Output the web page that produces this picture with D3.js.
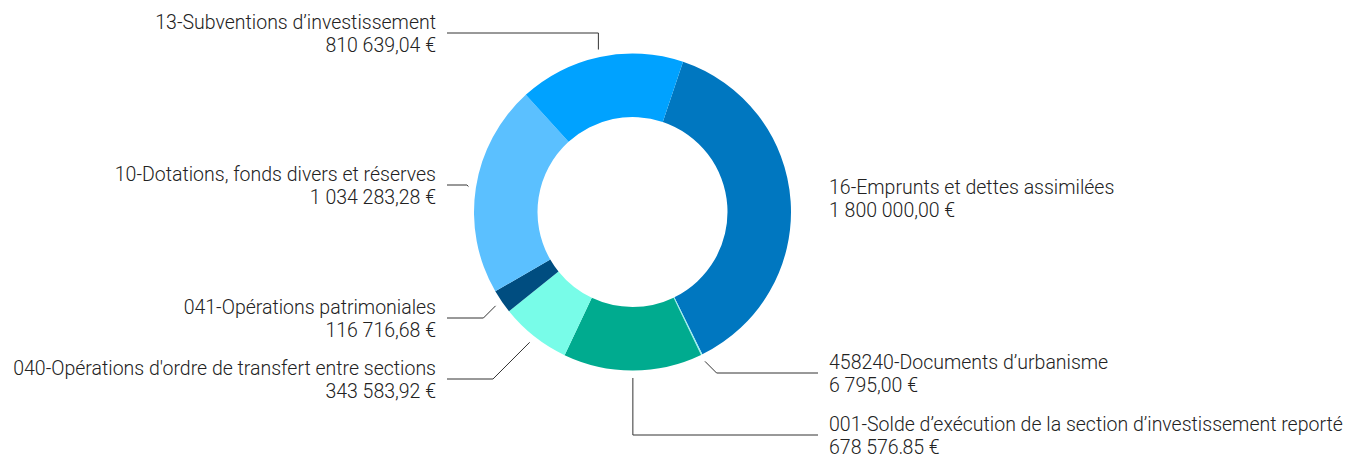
<html>
<head>
<meta charset="utf-8">
<title>Recettes d'investissement</title>
<script src="https://cdn.jsdelivr.net/npm/d3@7"></script>
<style>
body { margin:0; background:#fff; }
#chart text { font-family: Roboto, "Noto Sans", sans-serif; font-weight:300; font-size:19.5px; fill:#222; }
</style>
</head>
<body>
<svg id="chart" width="1347" height="454"></svg>
<script>

// data, in drawing order (clockwise)
var labels = ["16-Emprunts et dettes assimilées",
	"458240-Documents d’urbanisme",
	"001-Solde d’exécution de la section d’investissement reporté",
	"040-Opérations d'ordre de transfert entre sections",
	"041-Opérations patrimoniales",
	"10-Dotations, fonds divers et réserves",
	"13-Subventions d’investissement"];
var values = [1800000.00, 6795.00, 678576.85, 343583.92, 116716.68, 1034283.28, 810639.04];
var amounts = ["1 800 000,00 €", "6 795,00 €", "678 576,85 €", "343 583,92 €",
	"116 716,68 €", "1 034 283,28 €", "810 639,04 €"];
var colors = ["#0077c0", "#9af0f0", "#00ab8f", "#78fce8", "#004d80", "#5bc0ff", "#00a2ff"];

// layout of the labels (y of the leader line), not data
var labelY = [198, 373, 435, 379, 318, 185, 33];

var width = 1347, height = 454;
var cx = 632.5, cy = 212, outerR = 158.5, innerR = 95;
var startDeg = 18.6;

var svg = d3.select("#chart");
var g = svg.append("g").attr("transform", "translate(" + cx + "," + cy + ")");

var pie = d3.pie().sort(null)
	.startAngle(startDeg * Math.PI / 180)
	.endAngle((startDeg + 360) * Math.PI / 180);
var arcs = pie(values);

var arc = d3.arc().innerRadius(innerR).outerRadius(outerR);

g.selectAll("path.slice").data(arcs).enter().append("path")
	.attr("class", "slice")
	.attr("d", arc)
	.attr("fill", function(d, i) { return colors[i]; });

// leader lines + labels
arcs.forEach(function(d, i) {
	var mid = (d.startAngle + d.endAngle) / 2;
	var s = Math.sin(mid), c = -Math.cos(mid);
	var px = cx + (outerR + 7.5) * s, py = cy + (outerR + 7.5) * c;
	var right = s > 0;
	var ly = labelY[i];
	var ex;
	if (Math.abs(s) < 0.25) ex = px;
	else ex = px + (right ? 1 : -1) * Math.abs(ly - py);
	var endX = right ? 818 : 447;
	var textX = right ? 829 : 436;

	if (i !== 0) {
		svg.append("polyline")
			.attr("points", [[px, py], [ex, ly], [endX, ly]].map(function(p) { return p.join(","); }).join(" "))
			.attr("fill", "none")
			.attr("stroke", "#333")
			.attr("stroke-width", 1);
	}

	var t = svg.append("text")
		.attr("text-anchor", right ? "start" : "end")
		.attr("x", textX)
		.attr("y", ly - 4);
	t.append("tspan").attr("x", textX).text(labels[i]);
	t.append("tspan").attr("x", textX).attr("dy", 23).text(amounts[i]);
});

</script>
</body>
</html>
